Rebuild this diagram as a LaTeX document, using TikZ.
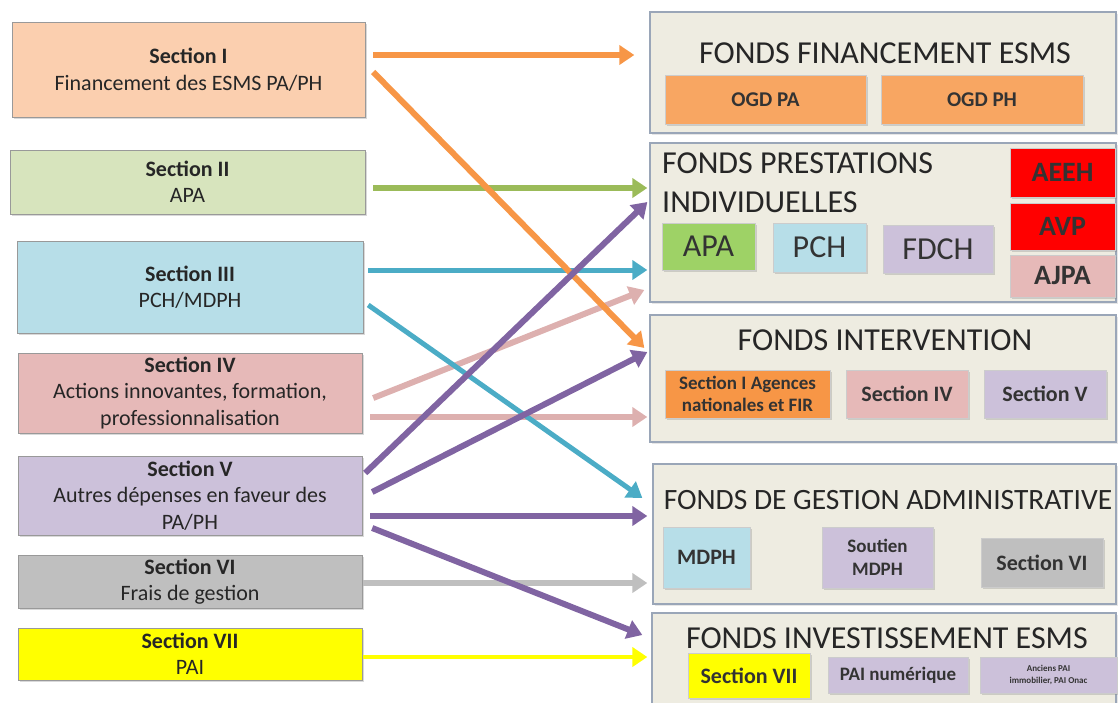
\documentclass[tikz,border=0pt]{standalone}
\usepackage{fontspec}
\setmainfont{Carlito}
\usetikzlibrary{arrows.meta,shadows}

\definecolor{peche}{HTML}{FBCFAF}
\definecolor{vertclair}{HTML}{D7E4BD}
\definecolor{bleuclair}{HTML}{B7DEE8}
\definecolor{rose}{HTML}{E6B9B8}
\definecolor{lavande}{HTML}{CCC1DA}
\definecolor{gris}{HTML}{BFBFBF}
\definecolor{jaune}{HTML}{FFFF00}
\definecolor{orange}{HTML}{F79646}
\definecolor{vert}{HTML}{9BBB59}
\definecolor{bleu}{HTML}{4BACC6}
\definecolor{violet}{HTML}{8064A2}
\definecolor{rosefonce}{HTML}{DDB0AF}
\definecolor{vertapa}{HTML}{9ED266}
\definecolor{fondpanneau}{HTML}{EEECE1}
\definecolor{bordpanneau}{HTML}{9AA6B8}

\begin{document}
\begin{tikzpicture}[x=1pt,y=-1pt,
    section/.style ={draw=black!40, align=center, inner sep=0pt, text=black!85,
                     font=\fontsize{22}{26.5}\selectfont, drop shadow={opacity=0.3}},
    fonds/.style ={draw=bordpanneau, line width=1.3pt, fill=fondpanneau, inner sep=0pt,
                   drop shadow={opacity=0.2}},
    titre/.style ={font=\fontsize{32}{39}\selectfont, text=black!85, inner sep=0pt},
    bloc/.style ={draw=black!20, align=center, inner sep=0pt, text=black!80,
                  font=\bfseries\fontsize{22}{24}\selectfont, drop shadow={opacity=0.3}},
    grand/.style ={font=\fontsize{32}{34}\selectfont},
    aide/.style ={font=\bfseries\fontsize{28}{30}\selectfont},
    fleche/.style ={line width=6pt, -{Triangle[length=15pt,width=19pt]}}]
   \useasboundingbox (0,0) rectangle (1118,702);

   % sections du budget
   \node[section, fill=peche, minimum width=353pt, minimum height=95pt] (s1) at (188.5,69.5)
        {\textbf{Section I}\\Financement des ESMS PA/PH};
   \node[section, fill=vertclair, minimum width=355pt, minimum height=64pt] (s2) at (187.5,182)
        {\textbf{Section II}\\APA};
   \node[section, fill=bleuclair, minimum width=346pt, minimum height=92pt] (s3) at (190,287)
        {\textbf{Section III}\\PCH/MDPH};
   \node[section, fill=rose, minimum width=344pt, minimum height=80pt] (s4) at (190,393)
        {\textbf{Section IV}\\Actions innovantes, formation,\\professionnalisation};
   \node[section, fill=lavande, minimum width=344pt, minimum height=79pt] (s5) at (190,495.5)
        {\textbf{Section V}\\Autres dépenses en faveur des\\PA/PH};
   \node[section, fill=gris, minimum width=344pt, minimum height=53pt] (s6) at (190,581.5)
        {\textbf{Section VI}\\Frais de gestion};
   \node[section, fill=jaune, minimum width=344pt, minimum height=52pt] (s7) at (190,654)
        {\textbf{Section VII}\\PAI};

   % fonds
   \node[fonds, minimum width=466pt, minimum height=121pt] (f1) at (883,72.5) {};
   \node[fonds, minimum width=466pt, minimum height=159pt] (f2) at (883,222.5) {};
   \node[fonds, minimum width=466pt, minimum height=127pt] (f3) at (883,378.5) {};
   \node[fonds, minimum width=463pt, minimum height=140pt] (f4) at (884.5,534) {};
   \node[fonds, minimum width=464pt, minimum height=92pt] (f5) at (884,659) {};

   \node[titre] (t1) at (885,53) {FONDS FINANCEMENT ESMS};
   \node[titre, anchor=west, align=left] (t2) at (662,182.5) {FONDS PRESTATIONS\\INDIVIDUELLES};
   \node[titre] (t3) at (885,340) {FONDS INTERVENTION};
   \node[titre, font=\fontsize{29.5}{32}\selectfont] (t4) at (888,500) {FONDS DE GESTION ADMINISTRATIVE};
   \node[titre] (t5) at (887,638) {FONDS INVESTISSEMENT ESMS};

   \node[bloc, fill=orange!85, minimum width=201pt, minimum height=49pt, font=\bfseries\fontsize{21}{24}\selectfont] (ogdpa) at (765.5,99.5) {OGD PA};
   \node[bloc, fill=orange!85, minimum width=202pt, minimum height=49pt, font=\bfseries\fontsize{21}{24}\selectfont] (ogdph) at (982,99.5) {OGD PH};

   \node[bloc, grand, fill=vertapa, minimum width=93pt, minimum height=47pt] (apa) at (708.5,246.5) {APA};
   \node[bloc, grand, fill=bleuclair, minimum width=93pt, minimum height=49pt] (pch) at (819.5,247.5) {PCH};
   \node[bloc, grand, fill=lavande, minimum width=110pt, minimum height=48pt] (fdch) at (938,249) {FDCH};
   \node[bloc, aide, fill=red, minimum width=105pt, minimum height=49pt] (aeeh) at (1062.5,172.5) {AEEH};
   \node[bloc, aide, fill=red, minimum width=105pt, minimum height=47pt] (avp) at (1062.5,226.5) {AVP};
   \node[bloc, aide, fill=rose, minimum width=105pt, minimum height=42pt] (ajpa) at (1062.5,276) {AJPA};

   \node[bloc, fill=orange, minimum width=165pt, minimum height=48pt, font=\bfseries\fontsize{19}{22}\selectfont] (sia) at (747.5,394) {Section I Agences\\nationales et FIR};
   \node[bloc, fill=rose, minimum width=122pt, minimum height=48pt] (siv) at (907,394) {Section IV};
   \node[bloc, fill=lavande, minimum width=122pt, minimum height=48pt] (sv) at (1045,394) {Section V};

   \node[bloc, fill=bleuclair, minimum width=87pt, minimum height=61pt] (mdph) at (706.5,557.5) {MDPH};
   \node[bloc, fill=lavande, minimum width=111pt, minimum height=61pt, font=\bfseries\fontsize{19}{23}\selectfont] (soutien) at (877.5,557.5) {Soutien\\MDPH};
   \node[bloc, fill=gris, minimum width=122pt, minimum height=49pt] (svi) at (1042,562.5) {Section VI};

   \node[bloc, fill=jaune, minimum width=122pt, minimum height=45pt] (svii) at (749,675.5) {Section VII};
   \node[bloc, fill=lavande, minimum width=140pt, minimum height=36pt, font=\bfseries\fontsize{19}{22}\selectfont] (painum) at (898,675) {PAI numérique};
   \node[bloc, fill=lavande, minimum width=137pt, minimum height=36pt, font=\bfseries\fontsize{9}{12}\selectfont] (anciens) at (1048.5,675) {Anciens PAI\\immobilier, PAI Onac};

   % fleches
   \draw[fleche, rosefonce] ([shift={(11,5)}]s4.east) -- ([shift={(-5,67.5)}]f2.west);
   \draw[fleche, rosefonce] ([shift={(8,24)}]s4.east) -- ([shift={(-2,38.5)}]f3.west);
   \draw[fleche, gris] ([shift={(1,1.5)}]s6.east) -- ([shift={(-5,49)}]f4.west);
   \draw[fleche, orange] ([shift={(8,-14.5)}]s1.east) -- ([shift={(-15,-17.5)}]f1.west);
   \draw[fleche, vert] ([shift={(8,6)}]s2.east) -- ([shift={(-2,-34.5)}]f2.west);
   \draw[fleche, bleu, line width=5pt] ([shift={(5,-17)}]s3.east) -- ([shift={(-2,47.5)}]f2.west);
   \draw[fleche, bleu, line width=5pt] ([shift={(5,18)}]s3.east) -- ([shift={(-10,-36)}]f4.west);
   \draw[fleche, orange] ([shift={(8,2.5)}]s1.east) -- ([shift={(-5,-30.5)}]f3.west);
   \draw[fleche, violet] ([shift={(3,-22.5)}]s5.east) -- ([shift={(-2,-20.5)}]f2.west);
   \draw[fleche, violet] ([shift={(10,-3.5)}]s5.east) -- ([shift={(-2,-26.5)}]f3.west);
   \draw[fleche, violet] ([shift={(8,20.5)}]s5.east) -- ([shift={(-5,-18)}]f4.west);
   \draw[fleche, violet] ([shift={(10,32.5)}]s5.east) -- ([shift={(-9,-24)}]f5.west);
   \draw[fleche, jaune, line width=4pt] ([shift={(1,3)}]s7.east) -- ([shift={(-4,-2)}]f5.west);
\end{tikzpicture}
\end{document}
